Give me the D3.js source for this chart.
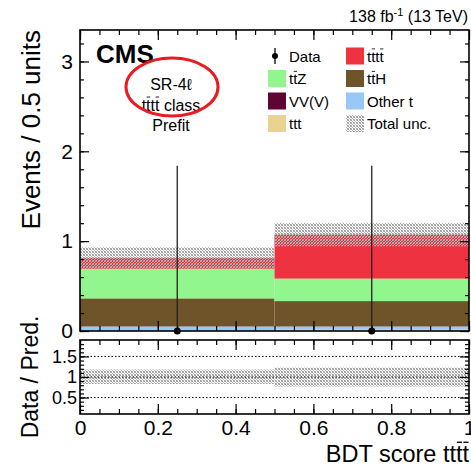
<!DOCTYPE html>
<html>
<head>
<meta charset="utf-8">
<script src="https://cdn.jsdelivr.net/npm/d3@7"></script>
<style>
  body { margin: 0; background: #fff; }
  text { font-family: "Liberation Sans", Arial, Helvetica, sans-serif; fill: #000; }
</style>
</head>
<body>
<div id="chart"></div>
<script>
(function () {
  'use strict'

  // bins of the BDT score
  var binEdges = [0, 0.5, 1]
  var binCenters = [0.25, 0.75]

  // expected yields per bin (stack order: bottom -> top)
  var ttt = [0.005, 0.015]
  var otherT = [0.045, 0.035]
  var vvv = [0.003, 0.003]
  var ttH = [0.31, 0.28]
  var ttZ = [0.33, 0.25]
  var tttt = [0.12, 0.49]
  var totalUnc = [0.12, 0.13]

  // observed data
  var dataObs = [0, 0]
  var dataErrUp = [1.84, 1.84]

  // ratio panel uncertainty band
  var ratioLow = [0.83, 0.77]
  var ratioHigh = [1.18, 1.23]

  var yTicks = [0, 1, 2, 3]
  var ratioTicks = [0.5, 1, 1.5]
  var xTicks = [0, 0.2, 0.4, 0.6, 0.8, 1]

  var procs = [
    { key: 'ttt', values: ttt, color: '#e9d38e' },
    { key: 'otherT', values: otherT, color: '#98c8f6' },
    { key: 'vvv', values: vvv, color: '#5e0532' },
    { key: 'ttH', values: ttH, color: '#6e5428' },
    { key: 'ttZ', values: ttZ, color: '#92f58e' },
    { key: 'tttt', values: tttt, color: '#ee3240' }
  ]
  var colorOf = {}
  procs.forEach(function (p) { colorOf[p.key] = p.color })

  var W = 471
  var H = 467
  var main = { left: 80, right: 469, top: 30, bottom: 331 }
  var rat = { left: 80, right: 469, top: 340, bottom: 414 }
  var font = '"Liberation Sans", Arial, Helvetica, sans-serif'

  var svg = d3.select('#chart').append('svg')
    .attr('width', W)
    .attr('height', H)

  // checker pattern for the uncertainty band
  var defs = svg.append('defs')
  var pat = defs.append('pattern')
    .attr('id', 'hatch')
    .attr('patternUnits', 'userSpaceOnUse')
    .attr('width', 3).attr('height', 3)
  ;[[0, 0, '#9a9a9a'], [1, 1, '#b8b8b8'], [2, 2, '#9a9a9a'], [2, 0, '#b8b8b8'], [0, 2, '#b8b8b8']]
    .forEach(function (c) {
      pat.append('rect').attr('x', c[0]).attr('y', c[1])
        .attr('width', 1).attr('height', 1).attr('fill', c[2])
    })

  var x = d3.scaleLinear().domain([0, 1]).range([main.left, main.right])
  var y = d3.scaleLinear().domain([0, 3.35]).range([main.bottom, main.top])
  var yr = d3.scaleLinear().domain([0.1, 1.9]).range([rat.bottom, rat.top])

  // text with overlined characters (anti-top bars)
  function barText (t, idx, fs) {
    var node = t.node()
    var base = +t.attr('y')
    idx.forEach(function (i) {
      var e = node.getExtentOfChar(i)
      svg.append('line')
        .attr('x1', e.x + fs * 0.04).attr('x2', e.x + e.width - fs * 0.02)
        .attr('y1', base - fs * 0.84).attr('y2', base - fs * 0.84)
        .attr('stroke', '#000').attr('stroke-width', Math.max(0.8, fs / 18))
    })
  }

  // stacked histogram
  var rows = binCenters.map(function (c, i) {
    var r = { i: i }
    procs.forEach(function (p) { r[p.key] = p.values[i] })
    return r
  })
  var series = d3.stack().keys(procs.map(function (p) { return p.key }))(rows)

  var gMain = svg.append('g').attr('class', 'main')
  series.forEach(function (s) {
    gMain.selectAll('.bar-' + s.key).data(s).enter().append('rect')
      .attr('x', function (d, i) { return x(binEdges[i]) })
      .attr('width', function (d, i) { return x(binEdges[i + 1]) - x(binEdges[i]) })
      .attr('y', function (d) { return y(d[1]) })
      .attr('height', function (d) { return Math.max(0, y(d[0]) - y(d[1])) })
      .attr('fill', colorOf[s.key])
  })

  var totals = rows.map(function (r) {
    return d3.sum(procs, function (p) { return r[p.key] })
  })

  // total uncertainty band
  gMain.selectAll('.unc').data(totals).enter().append('rect')
    .attr('x', function (d, i) { return x(binEdges[i]) })
    .attr('width', function (d, i) { return x(binEdges[i + 1]) - x(binEdges[i]) })
    .attr('y', function (d, i) { return y(d + totalUnc[i]) })
    .attr('height', function (d, i) { return y(d - totalUnc[i]) - y(d + totalUnc[i]) })
    .attr('fill', 'url(#hatch)')

  // data points
  gMain.selectAll('.err').data(dataObs).enter().append('line')
    .attr('x1', function (d, i) { return x(binCenters[i]) })
    .attr('x2', function (d, i) { return x(binCenters[i]) })
    .attr('y1', function (d) { return y(d) })
    .attr('y2', function (d, i) { return y(d + dataErrUp[i]) })
    .attr('stroke', '#222').attr('stroke-width', 1.3)
  gMain.selectAll('.pt').data(dataObs).enter().append('circle')
    .attr('cx', function (d, i) { return x(binCenters[i]) })
    .attr('cy', function (d) { return y(d) })
    .attr('r', 3.5)
    .attr('fill', '#000')

  // ratio panel
  var gRat = svg.append('g').attr('class', 'ratio')
  gRat.selectAll('.rband').data(ratioLow).enter().append('rect')
    .attr('x', function (d, i) { return x(binEdges[i]) })
    .attr('width', function (d, i) { return x(binEdges[i + 1]) - x(binEdges[i]) })
    .attr('y', function (d, i) { return yr(ratioHigh[i]) })
    .attr('height', function (d, i) { return yr(d) - yr(ratioHigh[i]) })
    .attr('fill', 'url(#hatch)')
  gRat.selectAll('.ref').data(ratioTicks).enter().append('line')
    .attr('x1', rat.left).attr('x2', rat.right)
    .attr('y1', function (d) { return yr(d) }).attr('y2', function (d) { return yr(d) })
    .attr('stroke', '#000').attr('stroke-width', 1)
    .attr('stroke-dasharray', '1.5,2')

  // axes helpers
  function styleAxis (g, size) {
    g.select('.domain').remove()
    g.attr('font-family', font).attr('font-size', size || 21)
    g.selectAll('.tick line').attr('stroke', '#000').attr('stroke-width', 1.2)
    g.selectAll('.tick text').attr('fill', '#000')
  }
  function ticksEvery (lo, hi, step) {
    var out = []
    for (var v = lo; v <= hi + 1e-9; v += step) out.push(+v.toFixed(4))
    return out
  }
  var noLabel = function () { return '' }

  // main y axes
  var yMinor = ticksEvery(0, 3.3, 0.2)
  svg.append('g').attr('transform', 'translate(' + main.left + ',0)')
    .call(d3.axisLeft(y).tickValues(yMinor).tickSize(-4).tickFormat(noLabel)).call(styleAxis)
  svg.append('g').attr('transform', 'translate(' + main.left + ',0)')
    .call(d3.axisLeft(y).tickValues(yTicks).tickSize(-9).tickPadding(7).tickFormat(d3.format('d'))).call(styleAxis)
  svg.append('g').attr('transform', 'translate(' + main.right + ',0)')
    .call(d3.axisRight(y).tickValues(yMinor).tickSize(-4).tickFormat(noLabel)).call(styleAxis)
  svg.append('g').attr('transform', 'translate(' + main.right + ',0)')
    .call(d3.axisRight(y).tickValues(yTicks).tickSize(-9).tickFormat(noLabel)).call(styleAxis)

  // x axes (main + ratio, top and bottom)
  var xMinor = ticksEvery(0, 1, 0.05)
  var xFmt = function (d) { return d === 0 ? '0' : d === 1 ? '1' : d.toFixed(1) }
  ;[main.top, main.bottom, rat.top].forEach(function (yy) {
    var mk = yy === main.top || yy === rat.top ? d3.axisTop : d3.axisBottom
    svg.append('g').attr('transform', 'translate(0,' + yy + ')')
      .call(mk(x).tickValues(xMinor).tickSize(-5).tickFormat(noLabel)).call(styleAxis)
    svg.append('g').attr('transform', 'translate(0,' + yy + ')')
      .call(mk(x).tickValues(xTicks).tickSize(-10).tickFormat(noLabel)).call(styleAxis)
  })
  svg.append('g').attr('transform', 'translate(0,' + rat.bottom + ')')
    .call(d3.axisBottom(x).tickValues(xMinor).tickSize(-5).tickFormat(noLabel)).call(styleAxis)
  svg.append('g').attr('transform', 'translate(0,' + rat.bottom + ')')
    .call(d3.axisBottom(x).tickValues(xTicks).tickSize(-10).tickPadding(6).tickFormat(xFmt)).call(styleAxis)

  // ratio y axes
  var rMinor = ticksEvery(0.2, 1.8, 0.1)
  svg.append('g').attr('transform', 'translate(' + rat.left + ',0)')
    .call(d3.axisLeft(yr).tickValues(rMinor).tickSize(-4).tickFormat(noLabel)).call(styleAxis)
  svg.append('g').attr('transform', 'translate(' + rat.left + ',0)')
    .call(d3.axisLeft(yr).tickValues(ratioTicks).tickSize(-9).tickPadding(3).tickFormat(d3.format('~g')))
    .call(styleAxis, 18)
  svg.append('g').attr('transform', 'translate(' + rat.right + ',0)')
    .call(d3.axisRight(yr).tickValues(rMinor).tickSize(-4).tickFormat(noLabel)).call(styleAxis)
  svg.append('g').attr('transform', 'translate(' + rat.right + ',0)')
    .call(d3.axisRight(yr).tickValues(ratioTicks).tickSize(-9).tickFormat(noLabel)).call(styleAxis)

  // frames
  ;[main, rat].forEach(function (p) {
    svg.append('rect')
      .attr('x', p.left).attr('y', p.top)
      .attr('width', p.right - p.left).attr('height', p.bottom - p.top)
      .attr('fill', 'none').attr('stroke', '#000').attr('stroke-width', 1.6)
  })

  // axis titles
  svg.append('text')
    .attr('transform', 'translate(40,30) rotate(-90)')
    .attr('text-anchor', 'end').attr('font-size', 26)
    .text('Events / 0.5 units')
  svg.append('text')
    .attr('transform', 'translate(38,377) rotate(-90)')
    .attr('text-anchor', 'middle').attr('font-size', 23)
    .text('Data / Pred.')
  var xTitle = svg.append('text')
    .attr('x', 469).attr('y', 462)
    .attr('text-anchor', 'end').attr('font-size', 23.5)
    .text('BDT score tttt')
  barText(xTitle, [12, 13], 23.5)

  // header
  var hdr = svg.append('text')
    .attr('x', 468).attr('y', 22)
    .attr('text-anchor', 'end').attr('font-size', 16)
  hdr.append('tspan').text('138 fb')
  hdr.append('tspan').attr('font-size', 11).attr('dy', -6).text('-1')
  hdr.append('tspan').attr('dy', 6).text(' (13 TeV)')

  // CMS label and region text
  svg.append('text')
    .attr('x', 96).attr('y', 63)
    .attr('font-size', 26).attr('font-weight', 'bold')
    .text('CMS')
  var regionLines = ['SR-4\u2113', 'tttt class', 'Prefit']
  var regionBars = [[], [1, 3], []]
  regionLines.forEach(function (s, i) {
    var t = svg.append('text')
      .attr('x', 171).attr('y', 90 + i * 20.5)
      .attr('text-anchor', 'middle').attr('font-size', 16)
      .text(s)
    barText(t, regionBars[i], 16)
  })

  svg.append('ellipse')
    .attr('cx', 172).attr('cy', 87).attr('rx', 46).attr('ry', 29)
    .attr('fill', 'none').attr('stroke', '#ea1b22').attr('stroke-width', 3)

  // legend
  var legend = [
    { label: 'Data', type: 'data', bars: [] },
    { label: 'tttt', key: 'tttt', bars: [1, 3] },
    { label: 'ttZ', key: 'ttZ', bars: [1] },
    { label: 'ttH', key: 'ttH', bars: [1] },
    { label: 'VV(V)', key: 'vvv', bars: [] },
    { label: 'Other t', key: 'otherT', bars: [] },
    { label: 'ttt', key: 'ttt', bars: [] },
    { label: 'Total unc.', type: 'unc', bars: [] }
  ]
  var lg = svg.append('g').attr('class', 'legend')
  legend.forEach(function (it, i) {
    var col = i % 2
    var row = Math.floor(i / 2)
    var sx = col === 0 ? 268 : 346
    var cy = 56 + row * 22.5
    if (it.type === 'data') {
      lg.append('line').attr('x1', sx + 7).attr('x2', sx + 7)
        .attr('y1', cy - 8).attr('y2', cy + 8).attr('stroke', '#000').attr('stroke-width', 1.3)
      lg.append('circle').attr('cx', sx + 7).attr('cy', cy).attr('r', 3).attr('fill', '#000')
    } else {
      lg.append('rect').attr('x', sx).attr('y', cy - 8.5)
        .attr('width', 18).attr('height', 17)
        .attr('fill', it.type === 'unc' ? 'url(#hatch)' : colorOf[it.key])
    }
    var t = lg.append('text')
      .attr('x', sx + 21).attr('y', cy + 5.5)
      .attr('font-size', 15)
      .text(it.label)
    barText(t, it.bars, 15)
  })
}())
</script>
</body>
</html>
